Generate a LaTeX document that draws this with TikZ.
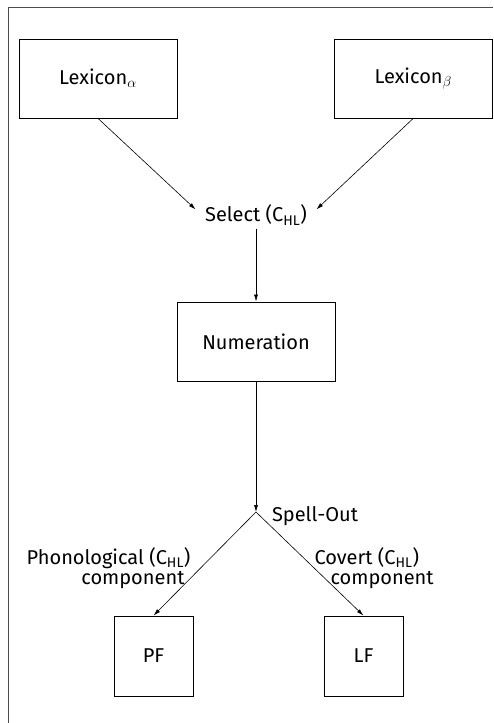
\documentclass[tikz,border=0pt]{standalone}
\usepackage{fontspec}
\setmainfont{Fira Sans}
\usetikzlibrary{arrows.meta,calc}
\begin{document}
\begin{tikzpicture}[x=1pt,y=-1pt,
  font=\fontsize{20}{20}\selectfont,
  box/.style={draw, line width=0.8pt, inner sep=0pt},
  bigbox/.style={box, minimum width=158pt, minimum height=79pt},
  smallbox/.style={box, minimum width=79pt, minimum height=80pt},
  arr/.style={-{Latex[length=7pt,width=4pt]}, line width=0.6pt},
  frame/.style={line width=0.8pt, black!70}]
\useasboundingbox (0,0) rectangle (493,723);
\draw[frame] (8,723) -- (8,7) -- (493,7);
\node[bigbox] (lexa) at (98,78.5) {Lexicon$_\alpha$};
\node[box, minimum width=158.5pt, minimum height=79pt] (lexb) at (413.25,78.5) {Lexicon$_\beta$};
\node (select) at (256,215) {Select (C\textsubscript{HL})};
\node[bigbox] (num) at (256,341.5) {Numeration};
\coordinate (so) at (256,512);
\node[anchor=west] (spell) at (268.5,516) {Spell-Out};
\node[smallbox] (pf) at (153.5,656) {PF};
\node[smallbox] (lf) at (363.5,656) {LF};
\node[anchor=east, align=right] (phon) at (194,568) {Phonological (C\textsubscript{HL})\\component\hspace*{6pt}};
\node[anchor=west, align=left] (cov) at (311,568) {Covert (C\textsubscript{HL})\\\hspace*{16pt}component};
\draw[arr] (lexa.south) -- ([xshift=-6pt,yshift=-8pt]select.north west);
\draw[arr] (lexb.south) -- ([xshift=6pt,yshift=-8pt]select.north east);
\draw[arr] (select.south) -- (num.north);
\draw[arr] (num.south) -- (so);
\draw[arr] (so) -- (pf.north);
\draw[arr] (so) -- (lf.north);
\end{tikzpicture}
\end{document}
